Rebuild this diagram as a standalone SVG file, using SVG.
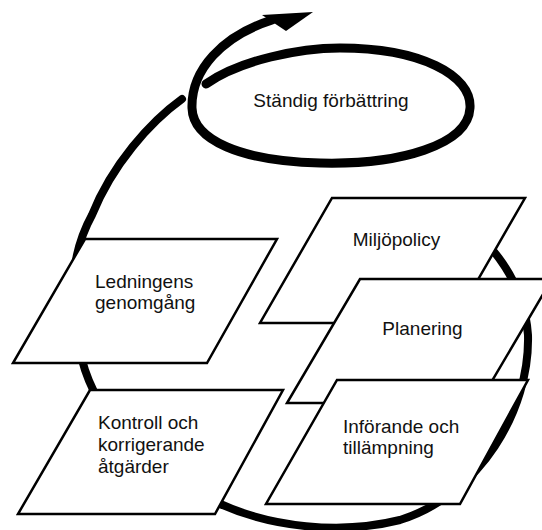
<svg xmlns="http://www.w3.org/2000/svg" width="542" height="530" viewBox="0 0 542 530">
<style>
.loop{fill:none;stroke:#000;stroke-linecap:round;stroke-linejoin:round}
.box{fill:#fff;stroke:#000;stroke-width:2.5;stroke-linejoin:miter}
.lbl{font-family:"Liberation Sans",Arial,sans-serif;font-size:19px;fill:#111}
</style>
<rect width="542" height="530" fill="#fff"/>
<g id="connectors">
<path class="loop" stroke-width="8" d="M465,222 C500,252 525,290 528,335 C530,410 480,495 400,520 C340,535 270,527 218,503 C160,475 105,430 85,370 C65,310 70,255 92,215 C112,165 150,122 182,99"/>
<path class="loop" stroke-width="9" d="M206,84 C240,60 300,48 340,48 C420,48 472,75 470,108 C468,145 400,165 320,163 C240,161 193,140 192,108 C191,70 222,36 272,20"/>
<polygon points="262,15 313,12 286,31" fill="#000"/>
</g>
<g id="standig">
<text class="lbl" x="331" y="107" text-anchor="middle">Ständig förbättring</text>
</g>
<g id="ledningens">
<polygon class="box" points="85,239 277,239 207,363 13,363"/>
<text class="lbl" x="95" y="288">Ledningens</text>
<text class="lbl" x="95" y="309">genomgång</text>
</g>
<g id="kontroll">
<polygon class="box" points="90,390 283,390 215,514 18,514"/>
<text class="lbl" x="98" y="429">Kontroll och</text>
<text class="lbl" x="98" y="451">korrigerande</text>
<text class="lbl" x="98" y="473">åtgärder</text>
</g>
<g id="miljopolicy">
<polygon class="box" points="332,198 525,198 453,323 260,323"/>
<text class="lbl" x="396.5" y="246" text-anchor="middle">Miljöpolicy</text>
</g>
<g id="planering">
<polygon class="box" points="360,279 552,279 479,403 287,403"/>
<text class="lbl" x="422.5" y="335" text-anchor="middle">Planering</text>
</g>
<g id="inforande">
<polygon class="box" points="337,380 528,380 460,504 266,504"/>
<text class="lbl" x="343" y="433">Införande och</text>
<text class="lbl" x="343" y="454">tillämpning</text>
</g>
</svg>
